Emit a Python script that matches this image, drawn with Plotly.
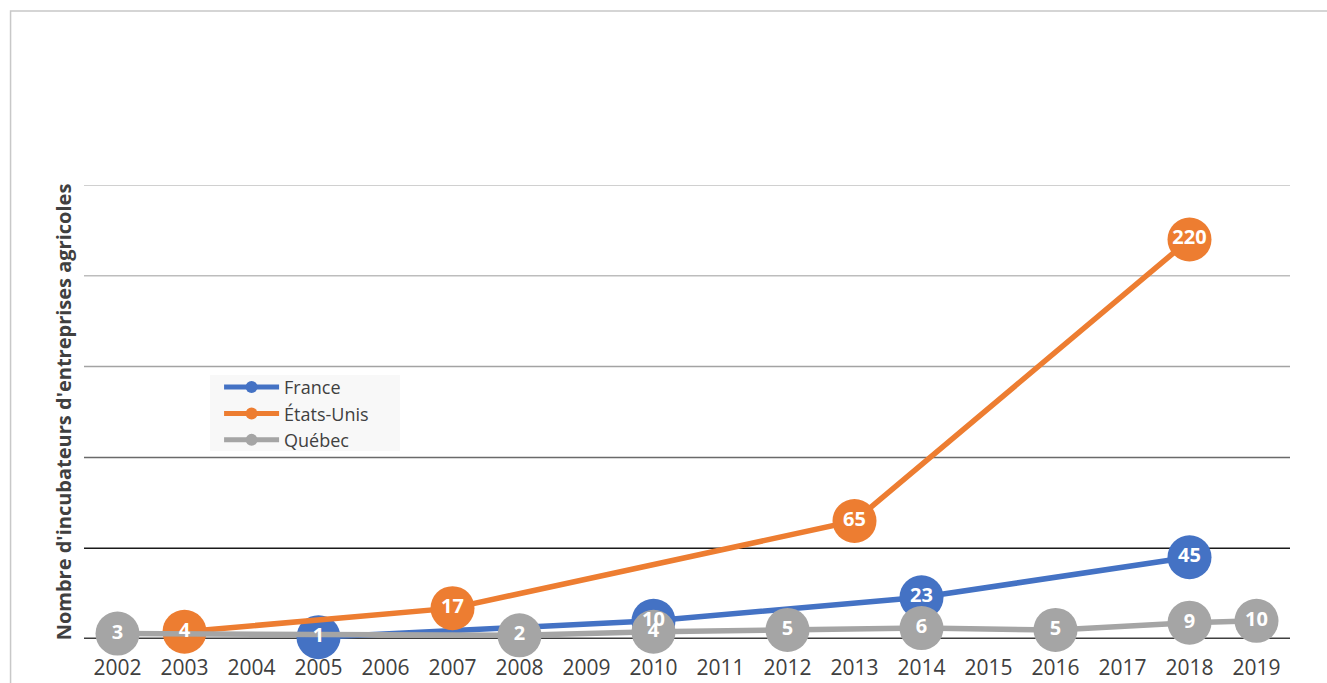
import plotly.graph_objects as go

# Years on the horizontal axis
years = ["2002", "2003", "2004", "2005", "2006", "2007", "2008", "2009", "2010",
         "2011", "2012", "2013", "2014", "2015", "2016", "2017", "2018", "2019"]

# Number of agricultural business incubators (None = no data for that year)
france = [None, None, None, 1, None, None, None, None, 10,
          None, None, None, 23, None, None, None, 45, None]
etats_unis = [None, 4, None, None, None, 17, None, None, None,
              None, None, 65, None, None, None, None, 220, None]
quebec = [3, None, None, None, None, None, 2, None, 4,
          None, 5, None, 6, None, 5, None, 9, 10]

series_names = ["France", "États-Unis", "Québec"]
series_values = [france, etats_unis, quebec]
series_colors = ["#4472C4", "#ED7D31", "#A5A5A5"]

# Horizontal gridlines and their shades
grid_values = [50, 100, 150, 200, 250]
grid_colors = ["#1a1a1a", "#6a6a6a", "#a3a3a3", "#bdbdbd", "#c0c0c0"]

FONT = "Open Sans"
TEXT_DARK = "#404040"

fig = go.Figure()

# Lines with circular markers
for name, vals, col in zip(series_names, series_values, series_colors):
    fig.add_trace(go.Scatter(
        x=years, y=vals, name=name, mode="lines+markers",
        connectgaps=True, cliponaxis=False,
        line=dict(color=col, width=5.5),
        marker=dict(color=col, size=44, symbol="circle"),
    ))

# Value labels drawn above every series
for name, vals in zip(series_names, series_values):
    fig.add_trace(go.Scatter(
        x=years, y=vals, mode="text", showlegend=False, cliponaxis=False,
        text=[("" if v is None else str(v)) for v in vals],
        textposition="middle center",
        textfont=dict(family=FONT, size=20, color="white", weight="bold"),
        hoverinfo="skip",
    ))

shapes = []
for gv, gc in zip(grid_values, grid_colors):
    shapes.append(dict(type="line", xref="paper", yref="y", x0=0, x1=1,
                       y0=gv, y1=gv, line=dict(color=gc, width=1.5), layer="below"))
# Base line
shapes.append(dict(type="line", xref="paper", yref="y", x0=0, x1=1, y0=0, y1=0,
                   line=dict(color="#404040", width=3), layer="below"))
# Outer frame
shapes.append(dict(type="rect", xref="paper", yref="paper",
                   x0=-0.0609, x1=1.06, y0=-0.2, y1=1.383,
                   line=dict(color="#c8c8c8", width=1.5), layer="below"))
# Legend backdrop
shapes.append(dict(type="rect", xref="paper", yref="paper",
                   x0=0.1045, x1=0.262, y0=0.414, y1=0.5815,
                   fillcolor="#f8f8f8", line=dict(width=0), layer="below"))

fig.update_layout(
    width=1327, height=683,
    margin=dict(l=84, r=37, t=185, b=44),
    paper_bgcolor="white", plot_bgcolor="rgba(0,0,0,0)",
    font=dict(family=FONT, color=TEXT_DARK),
    shapes=shapes,
    showlegend=True,
    legend=dict(
        x=0.112, y=0.595, xanchor="left", yanchor="top",
        bgcolor="rgba(0,0,0,0)", font=dict(family=FONT, size=18, color=TEXT_DARK),
        itemsizing="constant", itemwidth=55, tracegroupgap=0,
    ),
    xaxis=dict(
        type="category", categoryorder="array", categoryarray=years,
        range=[-0.5, len(years) - 0.5], showgrid=False, zeroline=False,
        showline=False, ticks="", ticklabelstandoff=14, automargin=False,
        tickfont=dict(family=FONT, size=21, color=TEXT_DARK),
    ),
    yaxis=dict(
        range=[0, 250], showgrid=False, zeroline=False, showticklabels=False,
        showline=False, ticks="", automargin=False,
        title=dict(text="Nombre d'incubateurs d'entreprises agricoles",
                   font=dict(family=FONT, size=20, color=TEXT_DARK, weight="bold"),
                   standoff=6),
    ),
)

fig.write_html("out.html")
